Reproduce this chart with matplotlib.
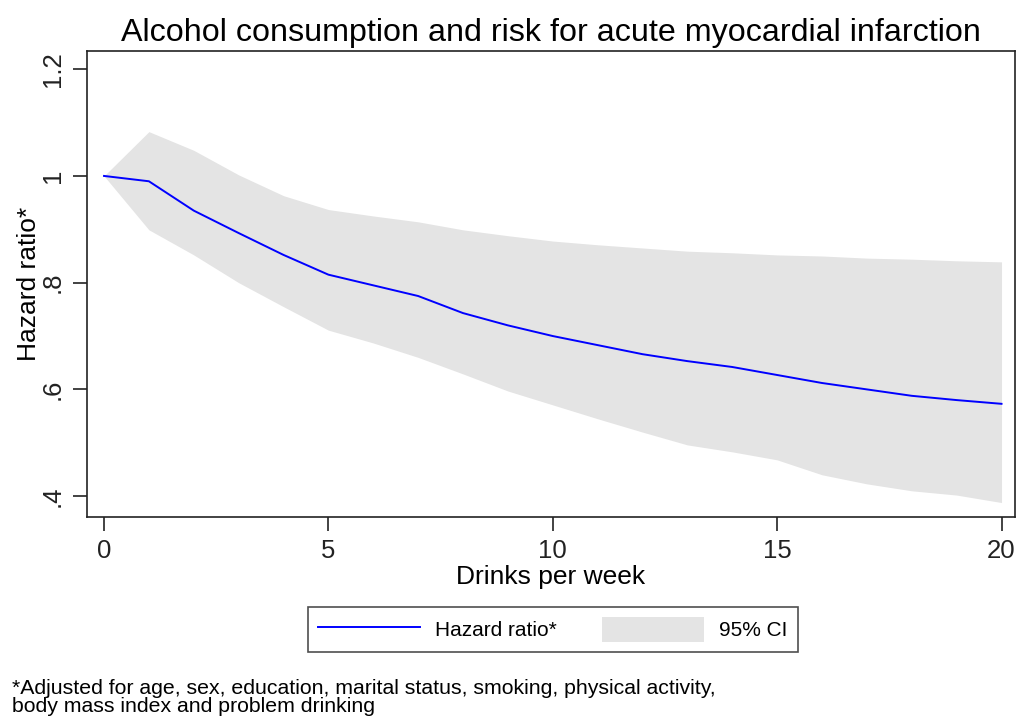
import matplotlib as mpl
import matplotlib.pyplot as plt

mpl.rcParams['font.family'] = ['Liberation Sans', 'DejaVu Sans']
COLOR = 'black'
mpl.rcParams['text.color'] = COLOR
mpl.rcParams['xtick.color'] = '#222222'
mpl.rcParams['ytick.color'] = '#222222'

# values
drinks = [0, 1, 2, 3, 4, 5, 6, 7, 8, 9, 10, 11, 12, 13, 14, 15, 16, 17, 18, 19, 20]
hazard = [1.0, 0.99, 0.935, 0.893, 0.852, 0.815, 0.795, 0.775, 0.743, 0.72, 0.70,
          0.683, 0.666, 0.653, 0.642, 0.627, 0.612, 0.60, 0.588, 0.58, 0.573]
ci_upper = [1.0, 1.083, 1.048, 1.002, 0.963, 0.937, 0.925, 0.914, 0.899, 0.888, 0.878,
            0.871, 0.865, 0.859, 0.856, 0.852, 0.85, 0.846, 0.844, 0.841, 0.839]
ci_lower = [1.0, 0.899, 0.852, 0.80, 0.755, 0.711, 0.687, 0.66, 0.629, 0.597, 0.571,
            0.545, 0.52, 0.496, 0.483, 0.468, 0.44, 0.423, 0.41, 0.402, 0.388]
x_ticks = [0, 5, 10, 15, 20]
y_ticks = [0.4, 0.6, 0.8, 1.0, 1.2]
y_labels = ['.4', '.6', '.8', '1', '1.2']

fig = plt.figure(figsize=(10.16, 7.19), dpi=100)
ax = fig.add_axes([0.0856, 0.281, 0.9134, 0.648])

band = ax.fill_between(drinks, ci_lower, ci_upper, color='#e4e4e4', linewidth=0, label='95% CI')
line, = ax.plot(drinks, hazard, color='#0000ff', linewidth=1.4, label='Hazard ratio*')

ax.set_xlim(-0.38, 20.3)
ax.set_ylim(0.361, 1.234)
ax.set_xticks(x_ticks)
ax.set_yticks(y_ticks)
ax.set_yticklabels(y_labels, rotation=90, va='center')
ax.tick_params(axis='both', direction='out', length=10, width=1.2, labelsize=18.5)
ax.tick_params(axis='y', pad=6)
ax.tick_params(axis='x', pad=6)
for s in ax.spines.values():
    s.set_linewidth(1.2)
    s.set_color('#222222')

ax.set_xlabel('Drinks per week', fontsize=19, labelpad=1)
ax.set_ylabel('Hazard ratio*', fontsize=19, labelpad=0)
ax.set_title('Alcohol consumption and risk for acute myocardial infarction', fontsize=23.2, pad=7)

leg = fig.legend([line, band], ['Hazard ratio*', '95% CI'], loc='center',
                 bbox_to_anchor=(0.544, 0.1245), ncols=2, fontsize=15,
                 handlelength=4.9, handleheight=1.4, handletextpad=0.7, columnspacing=2.2,
                 borderpad=0.5, fancybox=False, edgecolor='#222222')
leg.get_frame().set_linewidth(1.2)

fig.text(0.012, 0.004, '*Adjusted for age, sex, education, marital status, smoking, physical activity,\n'
         'body mass index and problem drinking', fontsize=15.3, linespacing=0.95,
         va='bottom', ha='left')

plt.savefig('out.png', dpi=100)
plt.close()
